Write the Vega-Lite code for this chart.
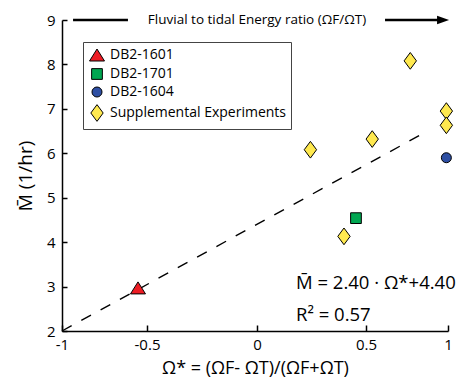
{
  "$schema": "https://vega.github.io/schema/vega-lite/v6.json",
  "width": 386,
  "height": 311,
  "autosize": "none",
  "padding": {"left": 62, "top": 20, "right": 28, "bottom": 49},
  "config": {
    "view": {"stroke": null},
    "font": "Open Sans",
    "axis": {"grid": false, "domainColor": "black", "domainWidth": 1.5, "tickColor": "black", "tickWidth": 1.5, "labelColor": "black", "titleColor": "black", "labelFont": "Open Sans", "titleFont": "Open Sans", "titleFontWeight": "normal"}
  },
  "encoding": {
    "x": {
      "field": "x", "type": "quantitative",
      "scale": {"domain": [-1, -0.5, 0, 0.5, 1], "range": [0, 85, 195, 304, 386], "nice": false, "zero": false},
      "axis": {"values": [-1, -0.5, 0, 0.5, 1], "labelExpr": "'' + datum.value", "tickSize": -6, "labelPadding": 12, "labelFontSize": 15, "labelFlush": false, "title": "Ω* = (ΩF- ΩT)/(ΩF+ΩT)", "titleFontSize": 18, "titlePadding": 7}
    },
    "y": {
      "field": "y", "type": "quantitative",
      "scale": {"domain": [2, 9], "nice": false, "zero": false},
      "axis": {"values": [2, 3, 4, 5, 6, 7, 8, 9], "tickSize": -5, "labelPadding": 12, "labelFontSize": 15, "title": "M̄ (1/hr)", "titleFontSize": 19, "titlePadding": 11}
    }
  },
  "layer": [
    {
      "data": {"values": [{"x": -1, "y": 2.0}, {"x": 0.88, "y": 6.51}]},
      "mark": {"type": "line", "color": "black", "strokeWidth": 1.4, "strokeDash": [11, 11], "clip": false}
    },
    {
      "data": {"values": [{"x": -0.935, "x2": -0.612, "y": 9}, {"x": 0.616, "x2": 0.95, "y": 9}]},
      "mark": {"type": "rule", "color": "black", "strokeWidth": 2.5, "clip": false},
      "encoding": {"x2": {"field": "x2"}}
    },
    {
      "data": {"values": [{"x": 0.97, "y": 9}]},
      "mark": {"type": "point", "shape": "M1,0L-1,-0.7L-1,0.7Z", "size": 144, "filled": true, "color": "black", "opacity": 1, "clip": false}
    },
    {
      "data": {"values": [
        {"series": "DB2-1601", "x": -0.553, "y": 2.97},
        {"series": "DB2-1701", "x": 0.454, "y": 4.54},
        {"series": "DB2-1604", "x": 0.99, "y": 5.9},
        {"series": "Supplemental Experiments", "x": 0.399, "y": 4.13},
        {"series": "Supplemental Experiments", "x": 0.245, "y": 6.08},
        {"series": "Supplemental Experiments", "x": 0.538, "y": 6.32},
        {"series": "Supplemental Experiments", "x": 0.77, "y": 8.08},
        {"series": "Supplemental Experiments", "x": 0.99, "y": 6.95},
        {"series": "Supplemental Experiments", "x": 0.99, "y": 6.63}
      ]},
      "mark": {"type": "point", "filled": true, "opacity": 1, "stroke": "black", "strokeWidth": 1, "clip": false},
      "encoding": {
        "color": {
          "field": "series", "type": "nominal",
          "scale": {"domain": ["DB2-1601", "DB2-1701", "DB2-1604", "Supplemental Experiments"], "range": ["#ed1c24", "#00a651", "#2e4fa3", "#ffe94f"]},
          "legend": {"orient": "none", "legendX": 21, "legendY": 22, "title": null, "strokeColor": "#444", "padding": 5, "labelFontSize": 14, "labelFont": "Open Sans", "labelColor": "black", "labelLimit": 300, "rowPadding": 3, "symbolStrokeColor": "black", "symbolStrokeWidth": 1, "symbolOpacity": 1, "fillColor": "white"}
        },
        "shape": {
          "field": "series", "type": "nominal",
          "scale": {"domain": ["DB2-1601", "DB2-1701", "DB2-1604", "Supplemental Experiments"], "range": ["M0,-0.8L1,0.8L-1,0.8Z", "square", "circle", "M0,-1L0.74,0L0,1L-0.74,0Z"]}
        },
        "size": {
          "field": "series", "type": "nominal",
          "scale": {"type": "ordinal", "domain": ["DB2-1601", "DB2-1701", "DB2-1604", "Supplemental Experiments"], "range": [225, 115, 100, 279]}
        }
      }
    },
    {
      "data": {"values": [{"x": 0.0, "y": 9, "label": "Fluvial to tidal Energy ratio (ΩF/ΩT)"}]},
      "mark": {"type": "text", "align": "center", "baseline": "middle", "fontSize": 13.5, "color": "black", "clip": false},
      "encoding": {"text": {"field": "label"}}
    },
    {
      "data": {"values": [{"x": 0.179, "y": 3.09, "label": "M̄ = 2.40 · Ω*+4.40"}, {"x": 0.179, "y": 2.35, "label": "R² = 0.57"}]},
      "mark": {"type": "text", "align": "left", "baseline": "middle", "fontSize": 18.5, "color": "black", "clip": false},
      "encoding": {"text": {"field": "label"}}
    }
  ]
}
